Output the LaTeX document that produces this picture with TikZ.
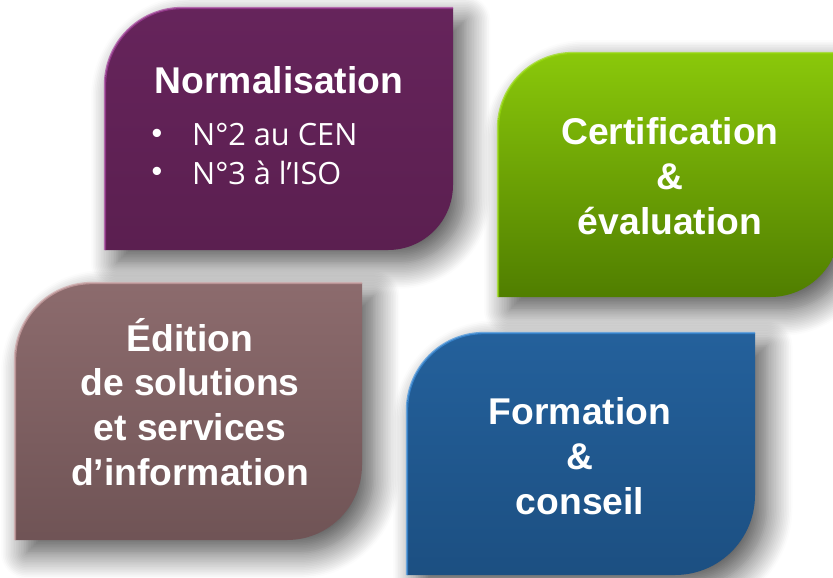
\documentclass[tikz,border=0pt]{standalone}
\usepackage{fontspec}
\setmainfont{Liberation Sans}
\newfontfamily\puce{Open Sans}
\usepackage{tikz}
\usetikzlibrary{shadows.blur}
\usepackage{xcolor}

\definecolor{prune}{HTML}{5B1F50}
\definecolor{prunelight}{HTML}{A2409A}
\definecolor{vert}{HTML}{6A9E02}
\definecolor{vertlight}{HTML}{98DA0E}
\definecolor{vertdark}{HTML}{507E00}
\definecolor{mauve}{HTML}{7C5D5F}
\definecolor{mauvelight}{HTML}{CDA4A6}
\definecolor{bleu}{HTML}{1F5890}
\definecolor{bleulight}{HTML}{3F90DC}

\tikzset{
  leaf/.style={blur shadow={shadow xshift=10pt,shadow yshift=-11pt,shadow blur radius=22pt,shadow blur steps=16,shadow opacity=70}},
  rim/.style={line width=2pt,draw opacity=0.7},
  titre/.style={text=white,font=\fontsize{31.8}{38.3}\selectfont\bfseries,align=center},
  liste/.style={text=white,font=\puce\fontsize{26.2}{30}\selectfont},
  point/.style={text=white,font=\fontsize{26}{30}\selectfont}
}

\begin{document}
\begin{tikzpicture}[x=0.03cm,y=-0.03cm]
 \useasboundingbox (0,0) rectangle (833,577);

 % les quatre feuilles
 \path[leaf,top color=prune!85!prunelight,bottom color=prune] (105,250) -- (105,85) arc[start angle=180,end angle=270,radius=77] -- (453,8) -- (453,185) arc[start angle=0,end angle=90,radius=65] -- cycle;
 \draw[rim,prunelight] (105,250) -- (105,85) arc[start angle=180,end angle=270,radius=77] -- (453,8);
 \path[leaf,top color=vertlight!70!vert,bottom color=vertdark] (498,297) -- (498,128) arc[start angle=180,end angle=270,radius=75] -- (840,53) -- (840,227) arc[start angle=0,end angle=90,radius=70] -- cycle;
 \draw[rim,vertlight] (498,297) -- (498,128) arc[start angle=180,end angle=270,radius=75] -- (840,53);
 \path[leaf,top color=mauve!80!mauvelight,bottom color=mauve!90!black] (15,540) -- (15,360) arc[start angle=180,end angle=270,radius=77] -- (362,283) -- (362,465) arc[start angle=0,end angle=90,radius=75] -- cycle;
 \draw[rim,mauvelight] (15,540) -- (15,360) arc[start angle=180,end angle=270,radius=77] -- (362,283);
 \path[leaf,top color=bleu!85!bleulight,bottom color=bleu!90!black] (407,575) -- (407,410) arc[start angle=180,end angle=270,radius=77] -- (755,333) -- (755,495) arc[start angle=0,end angle=90,radius=80] -- cycle;
 \draw[rim,bleulight] (407,575) -- (407,410) arc[start angle=180,end angle=270,radius=77] -- (755,333);

 % textes
 \node[titre] (norm) at (279,80) {Normalisation};
 \node[point] (b1) at (157,136) {•};
 \node[point] (b2) at (157,174) {•};
 \node[liste,anchor=west] (cen) at (188,135) {N°2 au CEN};
 \node[liste,anchor=west] (iso) at (188,173) {N°3 à l’ISO};
 \node[titre] (certif) at (670,176) {Certification\\\&\\évaluation};
 \node[titre] (edition) at (190,402) {Édition\\ de solutions\\et services\\d’information};
 \node[titre] (formation) at (580,456) {Formation\\\&\\conseil};
\end{tikzpicture}
\end{document}
